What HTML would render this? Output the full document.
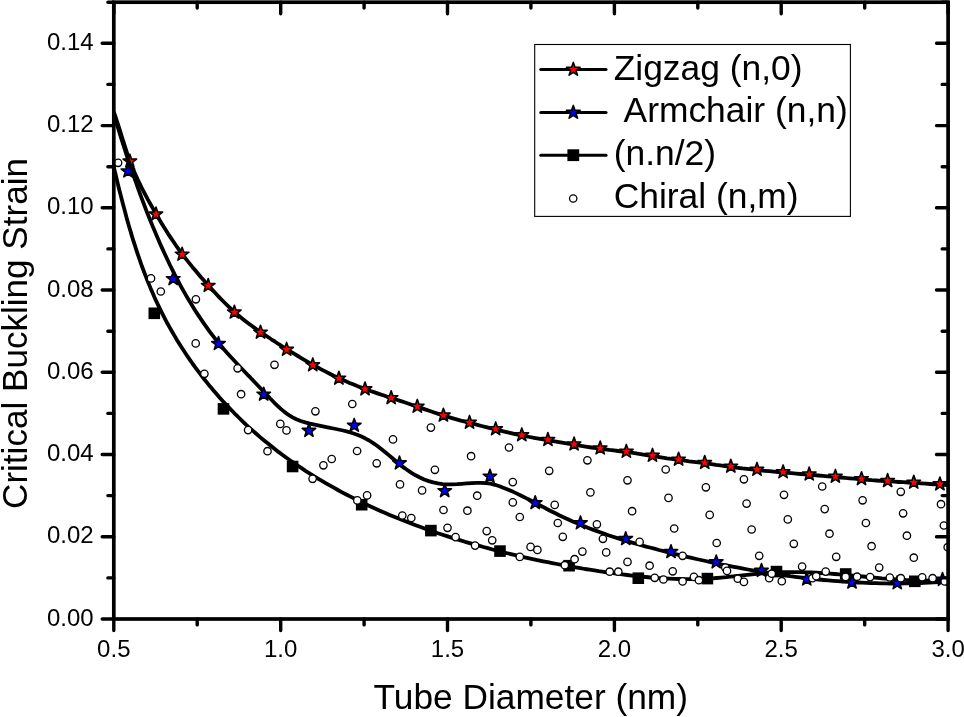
<!DOCTYPE html>
<html><head><meta charset="utf-8"><title>Critical Buckling Strain vs Tube Diameter</title>
<style>html,body{margin:0;padding:0;background:#fff}svg{display:block}text{font-family:"Liberation Sans",Arial,Helvetica,sans-serif;fill:#000}</style></head><body>
<svg width="964" height="717" viewBox="0 0 964 717">
<rect width="964" height="717" fill="#fff"/>
<defs><clipPath id="frame"><rect x="113.8" y="2.2" width="835.5" height="616.8"/></clipPath></defs>
<g clip-path="url(#frame)">
<g id="zigzag"><path d="M113.8,112.0L115.3,116.2L116.7,120.5L118.1,124.7L119.5,129.0L120.8,133.3L122.1,137.6L123.5,141.9L124.8,146.1L126.2,150.4L127.6,154.7L129.1,158.9L130.7,163.1L132.3,167.2L134.1,171.4L135.9,175.5L137.7,179.6L139.7,183.6L141.6,187.6L143.7,191.6L145.8,195.6L147.9,199.6L150.1,203.5L152.3,207.4L154.5,211.3L156.8,215.2L159.1,219.1L161.4,222.9L163.7,226.8L166.1,230.6L168.5,234.4L171.0,238.1L173.5,241.8L176.0,245.5L178.6,249.2L181.2,252.8L183.9,256.4L186.7,259.9L189.5,263.4L192.3,266.9L195.2,270.3L198.1,273.8L201.0,277.2L204.0,280.5L207.0,283.9L210.0,287.2L213.0,290.5L216.0,293.8L219.1,297.1L222.2,300.3L225.4,303.5L228.6,306.6L231.9,309.7L235.2,312.7L238.6,315.6L242.1,318.4L245.6,321.2L249.2,323.9L252.8,326.6L256.5,329.2L260.2,331.8L263.9,334.3L267.6,336.8L271.3,339.3L275.1,341.7L278.8,344.2L282.6,346.6L286.4,349.0L290.2,351.3L294.0,353.7L297.9,356.0L301.7,358.3L305.6,360.6L309.5,362.8L313.4,365.0L317.3,367.2L321.2,369.3L325.2,371.4L329.2,373.5L333.2,375.5L337.3,377.4L341.3,379.3L345.4,381.1L349.5,382.9L353.7,384.6L357.8,386.3L362.0,387.9L366.2,389.4L370.5,391.0L374.7,392.4L378.9,393.9L383.2,395.3L387.4,396.7L391.7,398.1L396.0,399.5L400.2,400.9L404.5,402.3L408.7,403.7L413.0,405.2L417.2,406.6L421.5,408.1L425.7,409.6L429.9,411.0L434.2,412.5L438.4,413.9L442.7,415.3L447.0,416.6L451.3,417.9L455.6,419.1L459.9,420.3L464.2,421.5L468.6,422.6L472.9,423.7L477.3,424.9L481.6,426.0L486.0,427.1L490.3,428.1L494.7,429.2L499.0,430.3L503.4,431.4L507.7,432.4L512.1,433.4L516.5,434.4L520.9,435.3L525.3,436.2L529.7,437.0L534.1,437.8L538.5,438.6L542.9,439.3L547.3,440.1L551.7,440.9L556.2,441.6L560.6,442.4L565.0,443.2L569.4,443.9L573.8,444.7L578.3,445.4L582.7,446.1L587.1,446.8L591.6,447.5L596.0,448.1L600.4,448.7L604.9,449.3L609.3,449.9L613.8,450.4L618.2,451.0L622.7,451.5L627.1,452.1L631.6,452.7L636.0,453.4L640.4,454.1L644.9,454.8L649.3,455.5L653.7,456.2L658.1,456.9L662.6,457.6L667.0,458.3L671.4,458.9L675.9,459.5L680.3,460.1L684.8,460.7L689.2,461.3L693.7,461.8L698.1,462.3L702.6,462.9L707.0,463.5L711.5,464.1L715.9,464.8L720.3,465.4L724.8,466.1L729.2,466.7L733.6,467.3L738.1,467.8L742.5,468.4L747.0,468.9L751.5,469.4L755.9,469.9L760.4,470.4L764.8,470.8L769.3,471.2L773.8,471.7L778.2,472.1L782.7,472.5L787.2,472.9L791.6,473.2L796.1,473.6L800.6,474.0L805.0,474.3L809.5,474.7L814.0,475.1L818.4,475.5L822.9,475.9L827.4,476.3L831.8,476.7L836.3,477.1L840.8,477.5L845.2,477.9L849.7,478.3L854.2,478.7L858.6,479.1L863.1,479.5L867.6,479.8L872.0,480.2L876.5,480.5L881.0,480.8L885.5,481.1L889.9,481.4L894.4,481.7L898.9,482.0L903.3,482.2L907.8,482.5L912.3,482.8L916.8,483.1L921.2,483.4L925.7,483.7L930.2,484.0L934.7,484.3L939.1,484.6L943.6,484.8L948.1,485.0" fill="none" stroke="#000" stroke-width="3.8" stroke-linejoin="round"/>
<polygon points="129.9,154.2 131.5,159.0 136.6,159.1 132.6,162.2 134.0,167.0 129.9,164.1 125.7,167.0 127.2,162.2 123.1,159.1 128.2,159.0" fill="#f00" stroke="#000" stroke-width="1.6" stroke-linejoin="round"/>
<polygon points="156.0,207.1 157.7,211.9 162.7,212.0 158.7,215.1 160.2,219.9 156.0,217.0 151.8,219.9 153.3,215.1 149.2,212.0 154.3,211.9" fill="#f00" stroke="#000" stroke-width="1.6" stroke-linejoin="round"/>
<polygon points="182.1,247.3 183.8,252.1 188.9,252.2 184.8,255.3 186.3,260.1 182.1,257.2 177.9,260.1 179.4,255.3 175.4,252.2 180.4,252.1" fill="#f00" stroke="#000" stroke-width="1.6" stroke-linejoin="round"/>
<polygon points="208.2,278.6 209.9,283.4 215.0,283.5 210.9,286.6 212.4,291.4 208.2,288.5 204.1,291.4 205.5,286.6 201.5,283.5 206.6,283.4" fill="#f00" stroke="#000" stroke-width="1.6" stroke-linejoin="round"/>
<polygon points="234.4,305.2 236.0,310.0 241.1,310.1 237.1,313.2 238.5,318.0 234.4,315.1 230.2,318.0 231.7,313.2 227.6,310.1 232.7,310.0" fill="#f00" stroke="#000" stroke-width="1.6" stroke-linejoin="round"/>
<polygon points="260.5,325.3 262.2,330.1 267.3,330.2 263.2,333.3 264.7,338.1 260.5,335.2 256.3,338.1 257.8,333.3 253.8,330.2 258.8,330.1" fill="#f00" stroke="#000" stroke-width="1.6" stroke-linejoin="round"/>
<polygon points="286.6,342.4 288.3,347.2 293.4,347.3 289.3,350.4 290.8,355.2 286.6,352.3 282.5,355.2 283.9,350.4 279.9,347.3 285.0,347.2" fill="#f00" stroke="#000" stroke-width="1.6" stroke-linejoin="round"/>
<polygon points="312.8,357.9 314.4,362.7 319.5,362.8 315.5,365.9 316.9,370.7 312.8,367.8 308.6,370.7 310.1,365.9 306.0,362.8 311.1,362.7" fill="#f00" stroke="#000" stroke-width="1.6" stroke-linejoin="round"/>
<polygon points="338.9,371.3 340.6,376.1 345.6,376.2 341.6,379.3 343.1,384.1 338.9,381.2 334.7,384.1 336.2,379.3 332.1,376.2 337.2,376.1" fill="#f00" stroke="#000" stroke-width="1.6" stroke-linejoin="round"/>
<polygon points="365.0,382.0 366.7,386.8 371.8,386.9 367.7,390.0 369.2,394.8 365.0,391.9 360.9,394.8 362.3,390.0 358.3,386.9 363.4,386.8" fill="#f00" stroke="#000" stroke-width="1.6" stroke-linejoin="round"/>
<polygon points="391.2,390.8 392.8,395.6 397.9,395.7 393.9,398.8 395.3,403.6 391.2,400.7 387.0,403.6 388.5,398.8 384.4,395.7 389.5,395.6" fill="#f00" stroke="#000" stroke-width="1.6" stroke-linejoin="round"/>
<polygon points="417.3,399.4 419.0,404.2 424.0,404.3 420.0,407.4 421.5,412.2 417.3,409.3 413.1,412.2 414.6,407.4 410.5,404.3 415.6,404.2" fill="#f00" stroke="#000" stroke-width="1.6" stroke-linejoin="round"/>
<polygon points="443.4,408.2 445.1,413.0 450.2,413.1 446.1,416.2 447.6,421.0 443.4,418.1 439.2,421.0 440.7,416.2 436.7,413.1 441.7,413.0" fill="#f00" stroke="#000" stroke-width="1.6" stroke-linejoin="round"/>
<polygon points="469.5,415.4 471.2,420.2 476.3,420.3 472.2,423.4 473.7,428.2 469.5,425.3 465.4,428.2 466.8,423.4 462.8,420.3 467.9,420.2" fill="#f00" stroke="#000" stroke-width="1.6" stroke-linejoin="round"/>
<polygon points="495.7,421.9 497.3,426.7 502.4,426.8 498.4,429.9 499.8,434.7 495.7,431.8 491.5,434.7 493.0,429.9 488.9,426.8 494.0,426.7" fill="#f00" stroke="#000" stroke-width="1.6" stroke-linejoin="round"/>
<polygon points="521.8,427.9 523.5,432.7 528.6,432.8 524.5,435.9 526.0,440.7 521.8,437.8 517.6,440.7 519.1,435.9 515.1,432.8 520.1,432.7" fill="#f00" stroke="#000" stroke-width="1.6" stroke-linejoin="round"/>
<polygon points="547.9,432.6 549.6,437.4 554.7,437.5 550.6,440.6 552.1,445.4 547.9,442.5 543.8,445.4 545.2,440.6 541.2,437.5 546.3,437.4" fill="#f00" stroke="#000" stroke-width="1.6" stroke-linejoin="round"/>
<polygon points="574.1,437.1 575.7,441.9 580.8,442.0 576.8,445.1 578.2,449.9 574.1,447.0 569.9,449.9 571.4,445.1 567.3,442.0 572.4,441.9" fill="#f00" stroke="#000" stroke-width="1.6" stroke-linejoin="round"/>
<polygon points="600.2,441.1 601.9,445.9 606.9,446.0 602.9,449.1 604.4,453.9 600.2,451.0 596.0,453.9 597.5,449.1 593.4,446.0 598.5,445.9" fill="#f00" stroke="#000" stroke-width="1.6" stroke-linejoin="round"/>
<polygon points="626.3,444.4 628.0,449.2 633.1,449.3 629.0,452.4 630.5,457.2 626.3,454.3 622.2,457.2 623.6,452.4 619.6,449.3 624.7,449.2" fill="#f00" stroke="#000" stroke-width="1.6" stroke-linejoin="round"/>
<polygon points="652.5,448.4 654.1,453.2 659.2,453.3 655.2,456.4 656.6,461.2 652.5,458.3 648.3,461.2 649.8,456.4 645.7,453.3 650.8,453.2" fill="#f00" stroke="#000" stroke-width="1.6" stroke-linejoin="round"/>
<polygon points="678.6,452.3 680.3,457.1 685.3,457.2 681.3,460.3 682.8,465.1 678.6,462.2 674.4,465.1 675.9,460.3 671.8,457.2 676.9,457.1" fill="#f00" stroke="#000" stroke-width="1.6" stroke-linejoin="round"/>
<polygon points="704.7,455.6 706.4,460.4 711.5,460.5 707.4,463.6 708.9,468.4 704.7,465.5 700.5,468.4 702.0,463.6 698.0,460.5 703.0,460.4" fill="#f00" stroke="#000" stroke-width="1.6" stroke-linejoin="round"/>
<polygon points="730.8,459.3 732.5,464.1 737.6,464.2 733.5,467.3 735.0,472.1 730.8,469.2 726.7,472.1 728.1,467.3 724.1,464.2 729.2,464.1" fill="#f00" stroke="#000" stroke-width="1.6" stroke-linejoin="round"/>
<polygon points="757.0,462.4 758.6,467.2 763.7,467.3 759.7,470.4 761.2,475.2 757.0,472.3 752.8,475.2 754.3,470.4 750.2,467.3 755.3,467.2" fill="#f00" stroke="#000" stroke-width="1.6" stroke-linejoin="round"/>
<polygon points="783.1,464.9 784.8,469.7 789.9,469.8 785.8,472.9 787.3,477.7 783.1,474.8 778.9,477.7 780.4,472.9 776.4,469.8 781.4,469.7" fill="#f00" stroke="#000" stroke-width="1.6" stroke-linejoin="round"/>
<polygon points="809.2,467.1 810.9,471.9 816.0,472.0 811.9,475.1 813.4,479.9 809.2,477.0 805.1,479.9 806.5,475.1 802.5,472.0 807.6,471.9" fill="#f00" stroke="#000" stroke-width="1.6" stroke-linejoin="round"/>
<polygon points="835.4,469.4 837.0,474.2 842.1,474.3 838.1,477.4 839.5,482.2 835.4,479.3 831.2,482.2 832.7,477.4 828.6,474.3 833.7,474.2" fill="#f00" stroke="#000" stroke-width="1.6" stroke-linejoin="round"/>
<polygon points="861.5,471.8 863.2,476.6 868.3,476.7 864.2,479.7 865.7,484.6 861.5,481.7 857.3,484.6 858.8,479.7 854.7,476.7 859.8,476.6" fill="#f00" stroke="#000" stroke-width="1.6" stroke-linejoin="round"/>
<polygon points="887.6,473.6 889.3,478.5 894.4,478.6 890.3,481.6 891.8,486.5 887.6,483.6 883.5,486.5 884.9,481.6 880.9,478.6 886.0,478.5" fill="#f00" stroke="#000" stroke-width="1.6" stroke-linejoin="round"/>
<polygon points="913.8,475.3 915.4,480.1 920.5,480.2 916.5,483.3 917.9,488.1 913.8,485.2 909.6,488.1 911.1,483.3 907.0,480.2 912.1,480.1" fill="#f00" stroke="#000" stroke-width="1.6" stroke-linejoin="round"/>
<polygon points="939.9,477.0 941.6,481.8 946.6,481.9 942.6,485.0 944.1,489.8 939.9,486.9 935.7,489.8 937.2,485.0 933.1,481.9 938.2,481.8" fill="#f00" stroke="#000" stroke-width="1.6" stroke-linejoin="round"/>
</g><g id="armchair"><path d="M113.6,113.1L114.9,117.7L116.3,122.2L117.7,126.8L119.1,131.4L120.5,136.0L121.9,140.5L123.4,145.1L124.9,149.7L126.3,154.2L127.8,158.8L129.3,163.3L130.9,167.8L132.4,172.4L134.0,176.9L135.6,181.4L137.2,185.9L138.8,190.4L140.4,194.9L142.1,199.4L143.8,203.8L145.5,208.3L147.2,212.8L149.0,217.2L150.8,221.7L152.6,226.1L154.5,230.5L156.3,234.9L158.2,239.3L160.1,243.7L162.1,248.1L164.1,252.5L166.1,256.8L168.2,261.2L170.2,265.5L172.4,269.8L174.5,274.1L176.7,278.3L178.9,282.5L181.2,286.8L183.5,290.9L185.9,295.1L188.3,299.2L190.8,303.3L193.3,307.4L195.8,311.4L198.4,315.4L201.1,319.4L203.8,323.3L206.5,327.2L209.3,331.1L212.2,334.9L215.1,338.6L218.1,342.4L221.2,346.0L224.3,349.7L227.4,353.2L230.6,356.8L233.9,360.3L237.1,363.8L240.4,367.3L243.8,370.8L247.1,374.3L250.5,377.7L253.8,381.2L257.2,384.7L260.5,388.2L263.9,391.7L267.2,395.2L270.5,398.8L273.9,402.3L277.3,405.6L280.8,408.9L284.4,411.9L288.2,414.7L292.1,417.1L296.3,419.2L300.7,421.0L305.2,422.4L309.9,423.7L314.6,424.7L319.3,425.7L324.1,426.7L328.9,427.6L333.6,428.5L338.3,429.5L343.0,430.5L347.6,431.7L352.1,433.0L356.5,434.5L360.9,436.3L365.1,438.3L369.2,440.5L373.2,443.1L377.1,445.8L380.9,448.7L384.7,451.7L388.5,454.9L392.2,458.0L396.0,461.2L399.8,464.3L403.6,467.3L407.5,470.2L411.5,472.8L415.6,475.3L419.9,477.5L424.2,479.5L428.7,481.1L433.3,482.4L437.9,483.4L442.6,484.1L447.4,484.4L452.2,484.4L457.0,484.2L461.9,483.8L466.7,483.4L471.6,483.1L476.4,482.8L481.1,482.8L485.8,483.1L490.5,483.7L495.0,484.8L499.5,486.2L503.9,487.9L508.3,489.7L512.7,491.6L517.0,493.6L521.3,495.7L525.6,497.9L529.8,500.0L534.1,502.3L538.3,504.5L542.6,506.7L546.8,509.0L551.1,511.2L555.4,513.3L559.7,515.5L564.0,517.5L568.4,519.5L572.7,521.5L577.1,523.3L581.6,525.2L586.0,527.0L590.4,528.7L594.9,530.4L599.4,532.0L603.9,533.6L608.4,535.2L613.0,536.7L617.5,538.1L622.1,539.6L626.7,541.0L631.3,542.3L635.9,543.7L640.5,545.0L645.1,546.3L649.7,547.5L654.4,548.7L659.0,550.0L663.7,551.1L668.3,552.3L673.0,553.5L677.6,554.6L682.3,555.7L687.0,556.8L691.6,557.9L696.3,559.0L701.0,560.0L705.7,561.0L710.4,562.1L715.0,563.1L719.7,564.0L724.4,565.0L729.1,565.9L733.8,566.8L738.5,567.7L743.2,568.6L747.9,569.5L752.6,570.3L757.4,571.1L762.1,571.9L766.8,572.7L771.5,573.4L776.3,574.1L781.0,574.8L785.7,575.5L790.4,576.2L795.2,576.8L799.9,577.4L804.7,578.0L809.4,578.5L814.2,579.0L818.9,579.5L823.7,580.0L828.4,580.4L833.2,580.8L838.0,581.2L842.7,581.6L847.5,581.9L852.3,582.2L857.0,582.5L861.8,582.7L866.6,582.9L871.4,583.1L876.2,583.2L880.9,583.3L885.7,583.4L890.5,583.5L895.3,583.5L900.1,583.5L904.9,583.4L909.7,583.3L914.5,583.2L919.3,583.1L924.1,582.9L928.9,582.7L933.8,582.4L938.6,582.1L943.4,581.8L948.2,581.4" fill="none" stroke="#000" stroke-width="3.8" stroke-linejoin="round"/>
<polygon points="127.9,164.1 129.6,168.9 134.7,169.0 130.7,172.1 132.1,176.9 127.9,174.0 123.8,176.9 125.2,172.1 121.2,169.0 126.3,168.9" fill="#00f" stroke="#000" stroke-width="1.6" stroke-linejoin="round"/>
<polygon points="173.2,271.8 174.9,276.6 180.0,276.7 175.9,279.8 177.4,284.6 173.2,281.7 169.0,284.6 170.5,279.8 166.4,276.7 171.5,276.6" fill="#00f" stroke="#000" stroke-width="1.6" stroke-linejoin="round"/>
<polygon points="218.5,336.6 220.1,341.4 225.2,341.5 221.2,344.6 222.6,349.4 218.5,346.5 214.3,349.4 215.8,344.6 211.7,341.5 216.8,341.4" fill="#00f" stroke="#000" stroke-width="1.6" stroke-linejoin="round"/>
<polygon points="263.7,387.3 265.4,392.1 270.5,392.2 266.4,395.3 267.9,400.1 263.7,397.2 259.5,400.1 261.0,395.3 257.0,392.2 262.0,392.1" fill="#00f" stroke="#000" stroke-width="1.6" stroke-linejoin="round"/>
<polygon points="309.0,423.5 310.6,428.3 315.7,428.4 311.7,431.5 313.1,436.3 309.0,433.4 304.8,436.3 306.3,431.5 302.2,428.4 307.3,428.3" fill="#00f" stroke="#000" stroke-width="1.6" stroke-linejoin="round"/>
<polygon points="354.2,418.4 355.9,423.2 361.0,423.3 356.9,426.4 358.4,431.2 354.2,428.3 350.0,431.2 351.5,426.4 347.5,423.3 352.5,423.2" fill="#00f" stroke="#000" stroke-width="1.6" stroke-linejoin="round"/>
<polygon points="399.5,456.0 401.1,460.8 406.2,460.9 402.2,464.0 403.6,468.8 399.5,465.9 395.3,468.8 396.8,464.0 392.7,460.9 397.8,460.8" fill="#00f" stroke="#000" stroke-width="1.6" stroke-linejoin="round"/>
<polygon points="444.7,483.8 446.4,488.6 451.5,488.7 447.4,491.8 448.9,496.6 444.7,493.7 440.5,496.6 442.0,491.8 438.0,488.7 443.0,488.6" fill="#00f" stroke="#000" stroke-width="1.6" stroke-linejoin="round"/>
<polygon points="490.0,469.3 491.6,474.1 496.7,474.2 492.7,477.3 494.1,482.1 490.0,479.2 485.8,482.1 487.3,477.3 483.2,474.2 488.3,474.1" fill="#00f" stroke="#000" stroke-width="1.6" stroke-linejoin="round"/>
<polygon points="535.2,495.8 536.9,500.6 542.0,500.7 537.9,503.8 539.4,508.6 535.2,505.7 531.0,508.6 532.5,503.8 528.5,500.7 533.6,500.6" fill="#00f" stroke="#000" stroke-width="1.6" stroke-linejoin="round"/>
<polygon points="580.5,515.9 582.1,520.7 587.2,520.8 583.2,523.9 584.6,528.7 580.5,525.8 576.3,528.7 577.8,523.9 573.7,520.8 578.8,520.7" fill="#00f" stroke="#000" stroke-width="1.6" stroke-linejoin="round"/>
<polygon points="625.7,531.7 627.4,536.5 632.5,536.6 628.4,539.7 629.9,544.5 625.7,541.6 621.6,544.5 623.0,539.7 619.0,536.6 624.1,536.5" fill="#00f" stroke="#000" stroke-width="1.6" stroke-linejoin="round"/>
<polygon points="671.0,544.7 672.6,549.5 677.7,549.6 673.7,552.7 675.2,557.5 671.0,554.6 666.8,557.5 668.3,552.7 664.2,549.6 669.3,549.5" fill="#00f" stroke="#000" stroke-width="1.6" stroke-linejoin="round"/>
<polygon points="716.2,555.0 717.9,559.8 723.0,559.9 718.9,563.0 720.4,567.8 716.2,564.9 712.1,567.8 713.5,563.0 709.5,559.9 714.6,559.8" fill="#00f" stroke="#000" stroke-width="1.6" stroke-linejoin="round"/>
<polygon points="761.5,563.5 763.2,568.3 768.2,568.4 764.2,571.5 765.7,576.3 761.5,573.4 757.3,576.3 758.8,571.5 754.7,568.4 759.8,568.3" fill="#00f" stroke="#000" stroke-width="1.6" stroke-linejoin="round"/>
<polygon points="806.7,572.1 808.4,576.9 813.5,577.0 809.4,580.1 810.9,584.9 806.7,582.0 802.6,584.9 804.0,580.1 800.0,577.0 805.1,576.9" fill="#00f" stroke="#000" stroke-width="1.6" stroke-linejoin="round"/>
<polygon points="852.0,575.2 853.7,580.0 858.7,580.1 854.7,583.2 856.2,588.0 852.0,585.1 847.8,588.0 849.3,583.2 845.2,580.1 850.3,580.0" fill="#00f" stroke="#000" stroke-width="1.6" stroke-linejoin="round"/>
<polygon points="897.2,575.9 898.9,580.7 904.0,580.8 899.9,583.9 901.4,588.7 897.2,585.8 893.1,588.7 894.5,583.9 890.5,580.8 895.6,580.7" fill="#00f" stroke="#000" stroke-width="1.6" stroke-linejoin="round"/>
<polygon points="942.5,572.5 944.2,577.3 949.2,577.4 945.2,580.5 946.7,585.3 942.5,582.4 938.3,585.3 939.8,580.5 935.7,577.4 940.8,577.3" fill="#00f" stroke="#000" stroke-width="1.6" stroke-linejoin="round"/>
</g><g id="half"><path d="M113.0,163.2L114.0,167.8L115.1,172.4L116.2,177.0L117.3,181.6L118.4,186.2L119.5,190.7L120.7,195.3L121.9,199.9L123.1,204.5L124.3,209.1L125.5,213.6L126.7,218.2L128.0,222.8L129.3,227.3L130.7,231.9L132.0,236.4L133.4,240.9L134.9,245.4L136.3,249.9L137.8,254.4L139.4,258.9L140.9,263.3L142.5,267.8L144.2,272.2L145.9,276.6L147.6,281.0L149.4,285.4L151.2,289.7L153.1,294.1L155.0,298.4L157.0,302.7L159.0,306.9L161.1,311.2L163.2,315.4L165.4,319.6L167.6,323.8L169.9,327.9L172.3,332.0L174.7,336.1L177.1,340.2L179.6,344.2L182.2,348.3L184.8,352.2L187.4,356.2L190.1,360.1L192.8,364.0L195.6,367.8L198.5,371.7L201.3,375.4L204.3,379.2L207.2,382.9L210.2,386.6L213.3,390.2L216.4,393.8L219.5,397.4L222.7,401.0L225.9,404.4L229.2,407.9L232.5,411.3L235.8,414.7L239.2,418.0L242.6,421.3L246.0,424.6L249.5,427.8L253.0,430.9L256.6,434.0L260.1,437.1L263.8,440.2L267.4,443.1L271.1,446.1L274.8,449.0L278.5,451.9L282.3,454.7L286.1,457.5L289.9,460.2L293.8,462.9L297.7,465.6L301.6,468.2L305.5,470.8L309.5,473.3L313.5,475.8L317.5,478.3L321.5,480.7L325.6,483.1L329.7,485.4L333.8,487.7L337.9,490.0L342.1,492.3L346.3,494.5L350.5,496.6L354.7,498.8L358.9,500.9L363.2,503.0L367.4,505.0L371.7,507.0L376.1,509.0L380.4,510.9L384.7,512.8L389.1,514.7L393.5,516.5L397.9,518.3L402.3,520.1L406.7,521.8L411.1,523.5L415.6,525.2L420.0,526.8L424.5,528.5L429.0,530.1L433.4,531.6L437.9,533.2L442.5,534.7L447.0,536.1L451.5,537.6L456.0,539.0L460.6,540.4L465.1,541.8L469.7,543.1L474.2,544.4L478.8,545.7L483.4,547.0L487.9,548.2L492.5,549.5L497.1,550.7L501.7,551.8L506.3,553.0L510.8,554.1L515.4,555.2L520.0,556.3L524.7,557.3L529.3,558.3L533.9,559.3L538.5,560.3L543.1,561.3L547.7,562.2L552.4,563.1L557.0,564.0L561.7,564.9L566.3,565.8L571.0,566.6L575.6,567.4L580.3,568.2L584.9,569.0L589.6,569.7L594.3,570.4L598.9,571.2L603.6,571.8L608.3,572.5L613.0,573.2L617.7,573.8L622.4,574.4L627.1,575.0L631.8,575.6L636.5,576.1L641.2,576.6L645.9,577.0L650.6,577.5L655.3,577.8L660.0,578.2L664.7,578.5L669.4,578.7L674.2,578.9L678.9,579.0L683.6,579.1L688.3,579.2L693.0,579.1L697.7,579.0L702.5,578.9L707.2,578.7L711.9,578.4L716.6,578.0L721.3,577.6L726.1,577.2L730.8,576.7L735.5,576.2L740.2,575.7L744.9,575.2L749.7,574.7L754.4,574.2L759.1,573.7L763.8,573.3L768.5,573.0L773.3,572.6L778.0,572.4L782.7,572.2L787.4,572.1L792.2,572.1L796.9,572.1L801.6,572.2L806.3,572.3L811.1,572.5L815.8,572.7L820.5,573.0L825.2,573.3L830.0,573.6L834.7,574.0L839.4,574.4L844.1,574.8L848.9,575.2L853.6,575.7L858.3,576.1L863.0,576.5L867.8,577.0L872.5,577.4L877.2,577.8L881.9,578.3L886.6,578.6L891.4,579.0L896.1,579.3L900.8,579.6L905.5,579.9L910.3,580.1L915.0,580.3L919.7,580.5L924.4,580.5L929.2,580.6L933.9,580.5L938.6,580.4L943.4,580.2L948.1,580.0" fill="none" stroke="#000" stroke-width="3.8" stroke-linejoin="round"/>
<rect x="148.5" y="307.5" width="11.6" height="11.6" fill="#000"/>
<rect x="217.7" y="403.1" width="11.6" height="11.6" fill="#000"/>
<rect x="286.8" y="460.7" width="11.6" height="11.6" fill="#000"/>
<rect x="355.9" y="498.9" width="11.6" height="11.6" fill="#000"/>
<rect x="425.1" y="524.8" width="11.6" height="11.6" fill="#000"/>
<rect x="494.2" y="545.3" width="11.6" height="11.6" fill="#000"/>
<rect x="563.3" y="559.9" width="11.6" height="11.6" fill="#000"/>
<rect x="632.5" y="572.4" width="11.6" height="11.6" fill="#000"/>
<rect x="701.6" y="572.8" width="11.6" height="11.6" fill="#000"/>
<rect x="770.7" y="565.8" width="11.6" height="11.6" fill="#000"/>
<rect x="839.9" y="568.2" width="11.6" height="11.6" fill="#000"/>
<rect x="909.0" y="575.5" width="11.6" height="11.6" fill="#000"/>
</g><g id="chiral" fill="#fff" stroke="#000" stroke-width="1.3">
<circle cx="118.1" cy="162.8" r="3.7"/>
<circle cx="151.0" cy="278.4" r="3.7"/>
<circle cx="160.8" cy="291.5" r="3.7"/>
<circle cx="195.9" cy="299.3" r="3.7"/>
<circle cx="195.7" cy="343.4" r="3.7"/>
<circle cx="204.4" cy="373.8" r="3.7"/>
<circle cx="237.6" cy="368.3" r="3.7"/>
<circle cx="274.5" cy="364.8" r="3.7"/>
<circle cx="241.1" cy="394.2" r="3.7"/>
<circle cx="248.1" cy="430.1" r="3.7"/>
<circle cx="267.5" cy="451.2" r="3.7"/>
<circle cx="280.3" cy="423.9" r="3.7"/>
<circle cx="286.5" cy="430.4" r="3.7"/>
<circle cx="315.4" cy="411.3" r="3.7"/>
<circle cx="352.3" cy="404.0" r="3.7"/>
<circle cx="312.6" cy="478.8" r="3.7"/>
<circle cx="323.4" cy="465.3" r="3.7"/>
<circle cx="331.7" cy="459.0" r="3.7"/>
<circle cx="357.1" cy="451.0" r="3.7"/>
<circle cx="376.7" cy="463.3" r="3.7"/>
<circle cx="393.0" cy="439.4" r="3.7"/>
<circle cx="430.9" cy="427.6" r="3.7"/>
<circle cx="434.9" cy="469.8" r="3.7"/>
<circle cx="400.0" cy="484.4" r="3.7"/>
<circle cx="422.1" cy="490.4" r="3.7"/>
<circle cx="367.1" cy="495.4" r="3.7"/>
<circle cx="357.3" cy="500.4" r="3.7"/>
<circle cx="402.3" cy="515.5" r="3.7"/>
<circle cx="411.3" cy="518.0" r="3.7"/>
<circle cx="471.1" cy="456.2" r="3.7"/>
<circle cx="509.0" cy="447.5" r="3.7"/>
<circle cx="549.2" cy="470.8" r="3.7"/>
<circle cx="587.4" cy="460.3" r="3.7"/>
<circle cx="627.5" cy="480.3" r="3.7"/>
<circle cx="665.7" cy="469.5" r="3.7"/>
<circle cx="512.8" cy="482.1" r="3.7"/>
<circle cx="477.2" cy="495.7" r="3.7"/>
<circle cx="512.8" cy="502.4" r="3.7"/>
<circle cx="554.7" cy="504.9" r="3.7"/>
<circle cx="590.4" cy="492.4" r="3.7"/>
<circle cx="668.5" cy="497.9" r="3.7"/>
<circle cx="632.1" cy="511.2" r="3.7"/>
<circle cx="443.5" cy="510.0" r="3.7"/>
<circle cx="467.4" cy="510.7" r="3.7"/>
<circle cx="519.8" cy="517.0" r="3.7"/>
<circle cx="557.8" cy="523.0" r="3.7"/>
<circle cx="596.9" cy="524.3" r="3.7"/>
<circle cx="674.2" cy="528.5" r="3.7"/>
<circle cx="447.5" cy="527.8" r="3.7"/>
<circle cx="486.7" cy="531.1" r="3.7"/>
<circle cx="562.8" cy="536.8" r="3.7"/>
<circle cx="602.9" cy="538.8" r="3.7"/>
<circle cx="639.6" cy="541.9" r="3.7"/>
<circle cx="455.6" cy="537.1" r="3.7"/>
<circle cx="492.2" cy="540.3" r="3.7"/>
<circle cx="475.1" cy="545.6" r="3.7"/>
<circle cx="530.6" cy="546.9" r="3.7"/>
<circle cx="537.4" cy="549.9" r="3.7"/>
<circle cx="582.4" cy="551.6" r="3.7"/>
<circle cx="606.2" cy="552.4" r="3.7"/>
<circle cx="519.8" cy="556.9" r="3.7"/>
<circle cx="574.6" cy="559.2" r="3.7"/>
<circle cx="564.8" cy="565.2" r="3.7"/>
<circle cx="627.5" cy="561.9" r="3.7"/>
<circle cx="649.6" cy="565.7" r="3.7"/>
<circle cx="609.7" cy="571.7" r="3.7"/>
<circle cx="618.3" cy="571.7" r="3.7"/>
<circle cx="672.7" cy="571.3" r="3.7"/>
<circle cx="654.7" cy="577.8" r="3.7"/>
<circle cx="663.4" cy="579.5" r="3.7"/>
<circle cx="705.9" cy="487.3" r="3.7"/>
<circle cx="743.9" cy="479.3" r="3.7"/>
<circle cx="784.0" cy="494.8" r="3.7"/>
<circle cx="822.2" cy="486.5" r="3.7"/>
<circle cx="862.6" cy="500.3" r="3.7"/>
<circle cx="900.8" cy="491.8" r="3.7"/>
<circle cx="746.6" cy="503.6" r="3.7"/>
<circle cx="824.7" cy="509.1" r="3.7"/>
<circle cx="709.7" cy="514.9" r="3.7"/>
<circle cx="787.8" cy="519.4" r="3.7"/>
<circle cx="865.9" cy="523.0" r="3.7"/>
<circle cx="751.6" cy="529.5" r="3.7"/>
<circle cx="829.5" cy="533.7" r="3.7"/>
<circle cx="716.7" cy="543.0" r="3.7"/>
<circle cx="793.8" cy="543.8" r="3.7"/>
<circle cx="871.6" cy="546.2" r="3.7"/>
<circle cx="682.6" cy="555.8" r="3.7"/>
<circle cx="759.2" cy="555.8" r="3.7"/>
<circle cx="836.2" cy="556.8" r="3.7"/>
<circle cx="802.1" cy="566.6" r="3.7"/>
<circle cx="879.2" cy="567.6" r="3.7"/>
<circle cx="725.3" cy="567.6" r="3.7"/>
<circle cx="727.0" cy="570.9" r="3.7"/>
<circle cx="825.7" cy="571.6" r="3.7"/>
<circle cx="693.9" cy="576.9" r="3.7"/>
<circle cx="698.9" cy="580.2" r="3.7"/>
<circle cx="682.6" cy="581.4" r="3.7"/>
<circle cx="737.8" cy="578.7" r="3.7"/>
<circle cx="743.9" cy="581.9" r="3.7"/>
<circle cx="769.2" cy="578.2" r="3.7"/>
<circle cx="771.7" cy="573.7" r="3.7"/>
<circle cx="781.8" cy="581.2" r="3.7"/>
<circle cx="812.4" cy="578.2" r="3.7"/>
<circle cx="816.2" cy="576.2" r="3.7"/>
<circle cx="941.0" cy="504.2" r="3.7"/>
<circle cx="903.1" cy="513.3" r="3.7"/>
<circle cx="943.9" cy="525.5" r="3.7"/>
<circle cx="906.9" cy="535.7" r="3.7"/>
<circle cx="947.7" cy="547.2" r="3.7"/>
<circle cx="913.8" cy="557.7" r="3.7"/>
<circle cx="845.6" cy="576.9" r="3.7"/>
<circle cx="857.1" cy="576.7" r="3.7"/>
<circle cx="870.1" cy="577.1" r="3.7"/>
<circle cx="889.8" cy="577.5" r="3.7"/>
<circle cx="900.8" cy="578.2" r="3.7"/>
<circle cx="922.2" cy="577.3" r="3.7"/>
<circle cx="932.6" cy="578.2" r="3.7"/>
<circle cx="944.7" cy="581.5" r="3.7"/>
</g></g>
<g stroke="#000" stroke-linecap="round" fill="none">
<g stroke-width="3.7" stroke-linecap="butt"><rect x="113.8" y="2.2" width="834.3" height="616.8"/></g>
<path stroke-width="3.4" d="M113.8,619.0v11.6M113.8,2.2v11.6M197.2,619.0v5.9M197.2,2.2v5.9M280.7,619.0v11.6M280.7,2.2v11.6M364.1,619.0v5.9M364.1,2.2v5.9M447.5,619.0v11.6M447.5,2.2v11.6M530.9,619.0v5.9M530.9,2.2v5.9M614.4,619.0v11.6M614.4,2.2v11.6M697.8,619.0v5.9M697.8,2.2v5.9M781.2,619.0v11.6M781.2,2.2v11.6M864.7,619.0v5.9M864.7,2.2v5.9M948.1,619.0v11.6M948.1,2.2v11.6M113.8,619.0h-11.6M948.1,619.0h-11.6M113.8,577.9h-5.9M948.1,577.9h-5.9M113.8,536.8h-11.6M948.1,536.8h-11.6M113.8,495.6h-5.9M948.1,495.6h-5.9M113.8,454.5h-11.6M948.1,454.5h-11.6M113.8,413.4h-5.9M948.1,413.4h-5.9M113.8,372.3h-11.6M948.1,372.3h-11.6M113.8,331.2h-5.9M948.1,331.2h-5.9M113.8,290.0h-11.6M948.1,290.0h-11.6M113.8,248.9h-5.9M948.1,248.9h-5.9M113.8,207.8h-11.6M948.1,207.8h-11.6M113.8,166.7h-5.9M948.1,166.7h-5.9M113.8,125.6h-11.6M948.1,125.6h-11.6M113.8,84.4h-5.9M948.1,84.4h-5.9M113.8,43.3h-11.6M948.1,43.3h-11.6M113.8,2.2h-5.9M948.1,2.2h-5.9"/></g>
<g font-size="24">
<text x="113.8" y="657.3" text-anchor="middle">0.5</text>
<text x="280.7" y="657.3" text-anchor="middle">1.0</text>
<text x="447.5" y="657.3" text-anchor="middle">1.5</text>
<text x="614.4" y="657.3" text-anchor="middle">2.0</text>
<text x="781.2" y="657.3" text-anchor="middle">2.5</text>
<text x="948.1" y="657.3" text-anchor="middle">3.0</text>
<text x="93.6" y="625.6" text-anchor="end">0.00</text>
<text x="93.6" y="543.4" text-anchor="end">0.02</text>
<text x="93.6" y="461.1" text-anchor="end">0.04</text>
<text x="93.6" y="378.9" text-anchor="end">0.06</text>
<text x="93.6" y="296.6" text-anchor="end">0.08</text>
<text x="93.6" y="214.4" text-anchor="end">0.10</text>
<text x="93.6" y="132.2" text-anchor="end">0.12</text>
<text x="93.6" y="49.9" text-anchor="end">0.14</text>
</g>
<text x="530.8" y="709.0" font-size="35.3" text-anchor="middle">Tube Diameter (nm)</text>
<text transform="translate(26.8,333.5) rotate(-90)" font-size="35.1" text-anchor="middle">Critical Buckling Strain</text>
<rect x="534.7" y="44.5" width="315.7" height="171.9" fill="#fff" stroke="#000" stroke-width="1.1"/>
<path d="M540.8,69.5H606" stroke="#000" stroke-width="3.1" stroke-linecap="round"/>
<path d="M540.8,112.5H606" stroke="#000" stroke-width="3.1" stroke-linecap="round"/>
<path d="M540.8,155.2H606" stroke="#000" stroke-width="3.1" stroke-linecap="round"/>
<polygon points="573.3,62.4 575.0,67.2 580.1,67.3 576.0,70.4 577.5,75.2 573.3,72.3 569.1,75.2 570.6,70.4 566.5,67.3 571.6,67.2" fill="#f00" stroke="#000" stroke-width="1.6" stroke-linejoin="round"/>
<polygon points="573.3,105.4 575.0,110.2 580.1,110.3 576.0,113.4 577.5,118.2 573.3,115.3 569.1,118.2 570.6,113.4 566.5,110.3 571.6,110.2" fill="#00f" stroke="#000" stroke-width="1.6" stroke-linejoin="round"/>
<rect x="567.4" y="149.29999999999998" width="11.8" height="11.8" fill="#000"/>
<circle cx="573.2" cy="198.5" r="3.7" fill="#fff" stroke="#000" stroke-width="1.3"/>
<g font-size="35.4" style="white-space:pre">
<text x="613.7" y="79.8">Zigzag (n,0)</text>
<text x="613.7" y="122.4"> Armchair (n,n)</text>
<text x="613.7" y="164.8">(n.n/2)</text>
<text x="613.7" y="207.6">Chiral (n,m)</text>
</g>
</svg></body></html>
